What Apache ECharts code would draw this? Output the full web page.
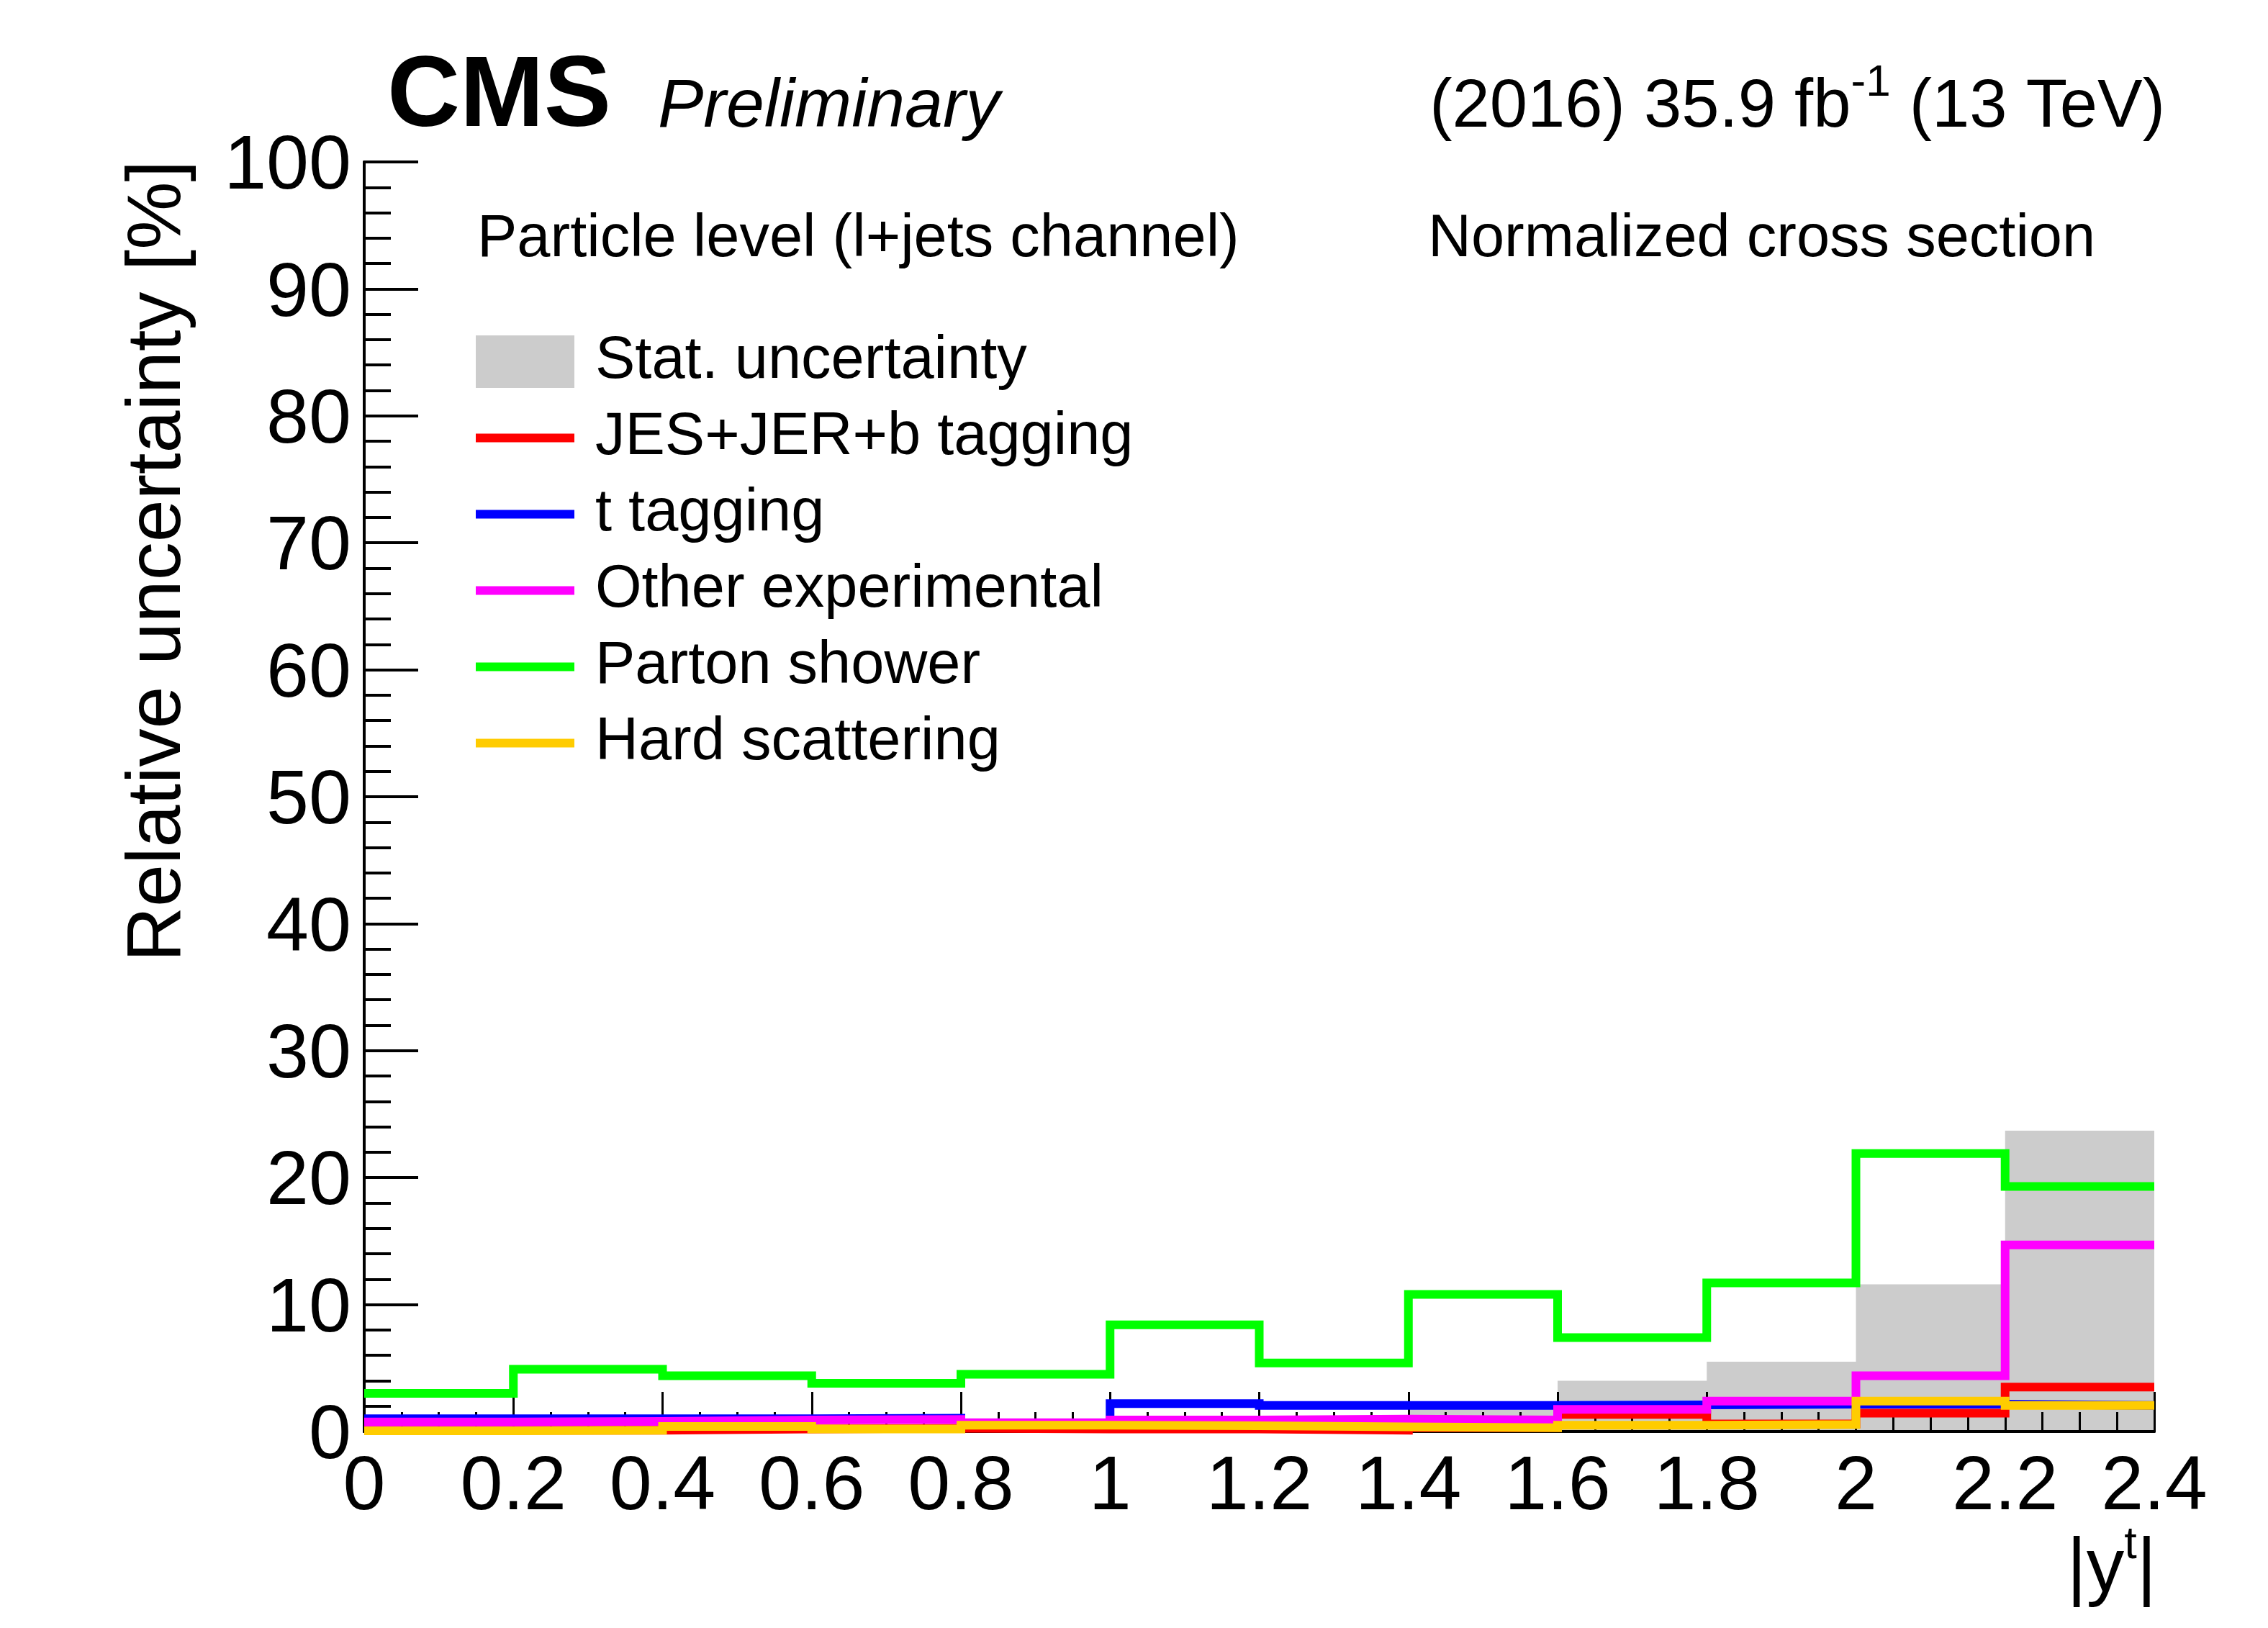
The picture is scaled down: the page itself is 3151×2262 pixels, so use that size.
<!DOCTYPE html>
<html>
<head>
<meta charset="utf-8">
<script src="https://cdn.jsdelivr.net/npm/echarts@6/dist/echarts.min.js"></script>
<style>
html,body{margin:0;padding:0;background:#fff;}
#chart{width:3151px;height:2262px;}
</style>
</head>
<body>
<div id="chart"></div>
<script>
// ---- data ----
var binEdges = [0, 0.2, 0.4, 0.6, 0.8, 1.0, 1.2, 1.4, 1.6, 1.8, 2.0, 2.2, 2.4];
var xTickLabels = ['0', '0.2', '0.4', '0.6', '0.8', '1', '1.2', '1.4', '1.6', '1.8', '2', '2.2', '2.4'];
var yTickLabels = ['0', '10', '20', '30', '40', '50', '60', '70', '80', '90', '100'];
var statUnc     = [0.5, 0.5, 0.5, 0.6, 0.6, 0.8, 1.0, 2.0, 4.0, 5.5, 11.6, 23.7];
var jesJerB     = [0.1, 0.1, 0.2, 0.25, 0.2, 0.2, 0.1, 0.3, 1.35, 0.6, 1.45, 3.5];
var tTagging    = [1.0, 1.0, 1.0, 1.05, 0.6, 2.2, 2.05, 2.05, 2.1, 2.15, 2.15, 2.05];
var otherExp    = [0.75, 0.8, 0.9, 0.95, 0.7, 0.9, 0.98, 0.9, 1.75, 2.4, 4.4, 14.7];
var partonShower= [3.0, 4.9, 4.4, 3.8, 4.5, 8.4, 5.4, 10.8, 7.4, 11.7, 21.9, 19.3];
var hardScatter = [0.05, 0.1, 0.4, 0.2, 0.5, 0.45, 0.37, 0.3, 0.5, 0.55, 2.4, 2.05];
var seriesNames = ['Stat. uncertainty', 'JES+JER+b tagging', 't tagging', 'Other experimental', 'Parton shower', 'Hard scattering'];
var seriesColors = ['#cccccc', '#ff0000', '#0000ff', '#ff00ff', '#00ff00', '#ffcc00'];

function stepData(vals) {
  var out = [];
  for (var i = 0; i < vals.length; i++) out.push([binEdges[i], vals[i]]);
  out.push([binEdges[binEdges.length - 1], vals[vals.length - 1]]);
  return out;
}

var FONT = 'Liberation Sans';
var W = 3151, H = 2262;
var gridL = 506, gridR = 2993, gridT = 225, gridB = 1989;

var mctx = document.createElement('canvas').getContext('2d');
function tw(txt, size, weight, style) {
  mctx.font = (style || 'normal') + ' ' + (weight || 'normal') + ' ' + size + 'px "' + FONT + '"';
  return mctx.measureText(txt).width;
}

var chart = echarts.init(document.getElementById('chart'), null, {renderer: 'canvas'});

var allVals = [statUnc, jesJerB, tTagging, otherExp, partonShower, hardScatter];
var series = [];
for (var s = 0; s < allVals.length; s++) {
  if (s === 0) {
    series.push({
      name: seriesNames[0], type: 'line', step: 'end', data: stepData(allVals[0]),
      symbol: 'none', showSymbol: false, z: 0, silent: true,
      itemStyle: {color: seriesColors[0]},
      lineStyle: {width: 0, color: seriesColors[0]},
      areaStyle: {color: seriesColors[0], opacity: 1}
    });
  } else {
    series.push({
      name: seriesNames[s], type: 'line', step: 'end', data: stepData(allVals[s]),
      symbol: 'none', showSymbol: false, z: 2 + s * 0.01, clip: false, silent: true,
      itemStyle: {color: seriesColors[s]},
      lineStyle: {width: 12, color: seriesColors[s], cap: 'butt', join: 'miter'}
    });
  }
}

var lineIcon = 'path://M0,0M161,73M0,30.5h137v12h-137z';
var boxIcon = 'path://M0,0M161,73M0,0h137v73h-137z';
var legendData = seriesNames.map(function (n, i) {
  return {name: n, icon: i === 0 ? boxIcon : lineIcon};
});

// header texts with superscripts
var hdrSize = 94, supSize = 62;
var hdrRight = 3008;
var hdrB = ' (13 TeV)', hdrS = '-1', hdrA = '(2016) 35.9 fb';
var wB = tw(hdrB, hdrSize), wS = tw(hdrS, supSize);

var xtSize = 105, xtSup = 63, xtRight = 2996;
var wBar = tw('|', xtSize), wT = tw('t', xtSup);

var graphics = [
  {type: 'text', x: 538, y: 136, style: {text: 'CMS', font: 'bold 140px "' + FONT + '"', fill: '#000', align: 'left', verticalAlign: 'middle'}},
  {type: 'text', x: 914, y: 150, style: {text: 'Preliminary', font: 'italic 95px "' + FONT + '"', fill: '#000', align: 'left', verticalAlign: 'middle'}},
  {type: 'text', x: hdrRight, y: 150, style: {text: hdrB, font: hdrSize + 'px "' + FONT + '"', fill: '#000', align: 'right', verticalAlign: 'middle'}},
  {type: 'text', x: hdrRight - wB, y: 116, style: {text: hdrS, font: supSize + 'px "' + FONT + '"', fill: '#000', align: 'right', verticalAlign: 'middle'}},
  {type: 'text', x: hdrRight - wB - wS, y: 150, style: {text: hdrA, font: hdrSize + 'px "' + FONT + '"', fill: '#000', align: 'right', verticalAlign: 'middle'}},
  {type: 'text', x: 663, y: 333, style: {text: 'Particle level (l+jets channel)', font: '83px "' + FONT + '"', fill: '#000', align: 'left', verticalAlign: 'middle'}},
  {type: 'text', x: 1984, y: 333, style: {text: 'Normalized cross section', font: '83px "' + FONT + '"', fill: '#000', align: 'left', verticalAlign: 'middle'}},
  // y axis title
  {type: 'text', x: 221, y: 223, rotation: Math.PI / 2, style: {text: 'Relative uncertainty [%]', font: '106px "' + FONT + '"', fill: '#000', align: 'right', verticalAlign: 'middle'}},
  // x axis title |y^t|
  {type: 'text', x: xtRight, y: 2182, style: {text: '|', font: xtSize + 'px "' + FONT + '"', fill: '#000', align: 'right', verticalAlign: 'middle'}},
  {type: 'text', x: xtRight - wBar, y: 2148, style: {text: 't', font: xtSup + 'px "' + FONT + '"', fill: '#000', align: 'right', verticalAlign: 'middle'}},
  {type: 'text', x: xtRight - wBar - wT, y: 2182, style: {text: '|y', font: xtSize + 'px "' + FONT + '"', fill: '#000', align: 'right', verticalAlign: 'middle'}}
];

var axisCommon = {
  axisLine: {show: true, lineStyle: {color: '#000', width: 4}},
  splitLine: {show: false}
};

var option = {
  animation: false,
  backgroundColor: '#ffffff',
  grid: {left: gridL, right: W - gridR, top: gridT, bottom: H - gridB, containLabel: false},
  legend: {
    show: true, orient: 'vertical', left: 656, top: 456,
    itemWidth: 161, itemHeight: 73, itemGap: 23,
    data: legendData, selectedMode: false,
    itemStyle: {borderWidth: 0},
    textStyle: {fontFamily: FONT, fontSize: 83, color: '#000'}
  },
  xAxis: [
    Object.assign({}, axisCommon, {
      type: 'value', min: 0, max: 2.4, interval: 0.2, position: 'bottom', z: 1,
      axisTick: {show: true, inside: true, length: 55, lineStyle: {color: '#000', width: 3}},
      minorTick: {show: true, splitNumber: 4, length: 27, lineStyle: {color: '#000', width: 3}},
      axisLabel: {show: true, margin: 26, fontFamily: FONT, fontSize: 106, color: '#000',
        formatter: function (v) { return xTickLabels[Math.round(v / 0.2)]; }}
    }),
    Object.assign({}, axisCommon, {
      type: 'value', min: 0, max: 2.4, interval: 0.2, position: 'top', z: 1,
      axisTick: {show: false}, axisLabel: {show: false}
    })
  ],
  yAxis: [
    Object.assign({}, axisCommon, {
      type: 'value', min: 0, max: 100, interval: 10, position: 'left', z: 1,
      axisTick: {show: true, inside: true, length: 75, lineStyle: {color: '#000', width: 4}},
      minorTick: {show: true, splitNumber: 5, length: 37, lineStyle: {color: '#000', width: 4}},
      axisLabel: {show: true, margin: 18, color: '#000',
        formatter: function (v) { return '{a|' + yTickLabels[Math.round(v / 10)] + '}'; },
        rich: {a: {fontFamily: FONT, fontSize: 106, color: '#000', padding: [16, 0, 0, 0]}}}
    }),
    Object.assign({}, axisCommon, {
      type: 'value', min: 0, max: 100, interval: 10, position: 'right', z: 1,
      axisTick: {show: false}, axisLabel: {show: false}
    })
  ],
  series: series,
  graphic: graphics
};
chart.setOption(option);
</script>
</body>
</html>
